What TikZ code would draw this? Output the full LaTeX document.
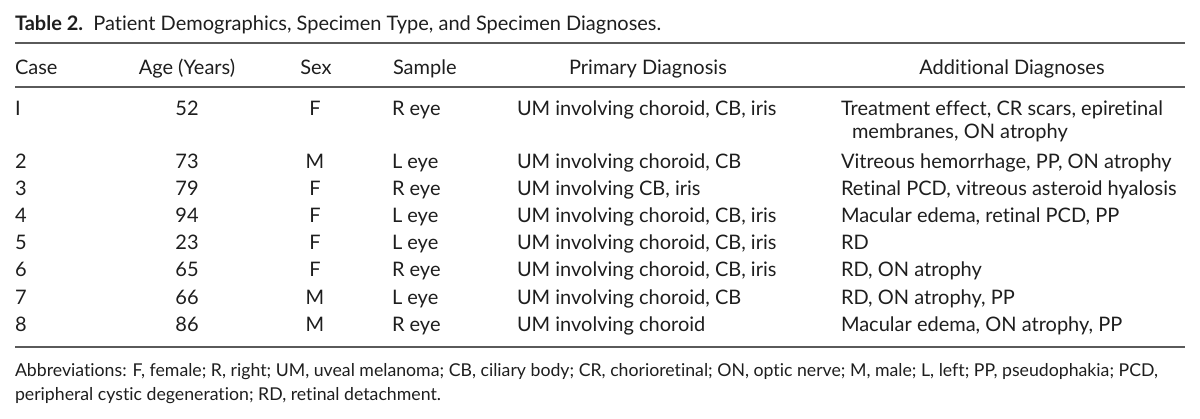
\documentclass[tikz,border=0pt]{standalone}
\usepackage{fontspec}
\setmainfont{Lato}[Ligatures={NoCommon}]
\definecolor{txt}{HTML}{1E1E1E}
\definecolor{rulec}{HTML}{5A5A5A}
\begin{document}
\begin{tikzpicture}[x=1pt,y=-1pt,
  every node/.style={inner sep=0pt,outer sep=0pt,text=txt,font=\fontsize{20}{23}\selectfont},
  lt/.style={anchor=base west},
  ct/.style={anchor=base},
  abbr/.style={anchor=base west,font=\fontsize{17.7}{20}\selectfont},
  hrule/.style={draw=rulec,line width=1.6pt}]
\useasboundingbox (0,0) rectangle (1200,418);
% caption
\node[lt] (cap) at (15,30) {\textbf{Table 2.}\ \ Patient Demographics, Specimen Type, and Specimen Diagnoses.};
% rules
\coordinate (r1l) at (15,43);  \coordinate (r1r) at (1185,43);
\coordinate (r2l) at (15,87);  \coordinate (r2r) at (1185,87);
\coordinate (r3l) at (15,347); \coordinate (r3r) at (1185,347);
\draw[hrule] (r1l) -- (r1r);
\draw[hrule] (r2l) -- (r2r);
\draw[hrule] (r3l) -- (r3r);
% header
\node[lt] (hcase) at (15,74) {Case};
\node[ct] (hage) at (187,74) {Age (Years)};
\node[ct] (hsex) at (316,74) {Sex};
\node[lt] (hsam) at (393,74) {Sample};
\node[ct] (hpri) at (648,74) {Primary Diagnosis};
\node[ct] (hadd) at (1012,74) {Additional Diagnoses};
% rows
\foreach \c/\a/\s/\m/\p/\d/\y in {
  1/52/F/R eye/{UM involving choroid, CB, iris}/{Treatment effect, CR scars, epiretinal}/115,
  2/73/M/L eye/{UM involving choroid, CB}/{Vitreous hemorrhage, PP, ON atrophy}/168,
  3/79/F/R eye/{UM involving CB, iris}/{Retinal PCD, vitreous asteroid hyalosis}/195.2,
  4/94/F/L eye/{UM involving choroid, CB, iris}/{Macular edema, retinal PCD, PP}/222.4,
  5/23/F/L eye/{UM involving choroid, CB, iris}/{RD}/249.6,
  6/65/F/R eye/{UM involving choroid, CB, iris}/{RD, ON atrophy}/276.8,
  7/66/M/L eye/{UM involving choroid, CB}/{RD, ON atrophy, PP}/304,
  8/86/M/R eye/{UM involving choroid}/{Macular edema, ON atrophy, PP}/331.4}{
  \node[lt] (case\c) at (15,\y) {\ifnum\c=1 I\else\c\fi};
  \node[ct] (age\c) at (187,\y) {\a};
  \node[ct] (sex\c) at (315,\y) {\s};
  \node[lt] (sam\c) at (392,\y) {\m};
  \node[lt] (pri\c) at (517,\y) {\p};
  \node[lt] (add\c) at (841,\y) {\d};
}
\node[lt] (add1b) at (852,138) {membranes, ON atrophy};
% footnote
\node[abbr] (ab1) at (15,376) {Abbreviations: F, female; R, right; UM, uveal melanoma; CB, ciliary body; CR, chorioretinal; ON, optic nerve; M, male; L, left; PP, pseudophakia; PCD,};
\node[abbr] (ab2) at (15,400) {peripheral cystic degeneration; RD, retinal detachment.};
\end{tikzpicture}
\end{document}
